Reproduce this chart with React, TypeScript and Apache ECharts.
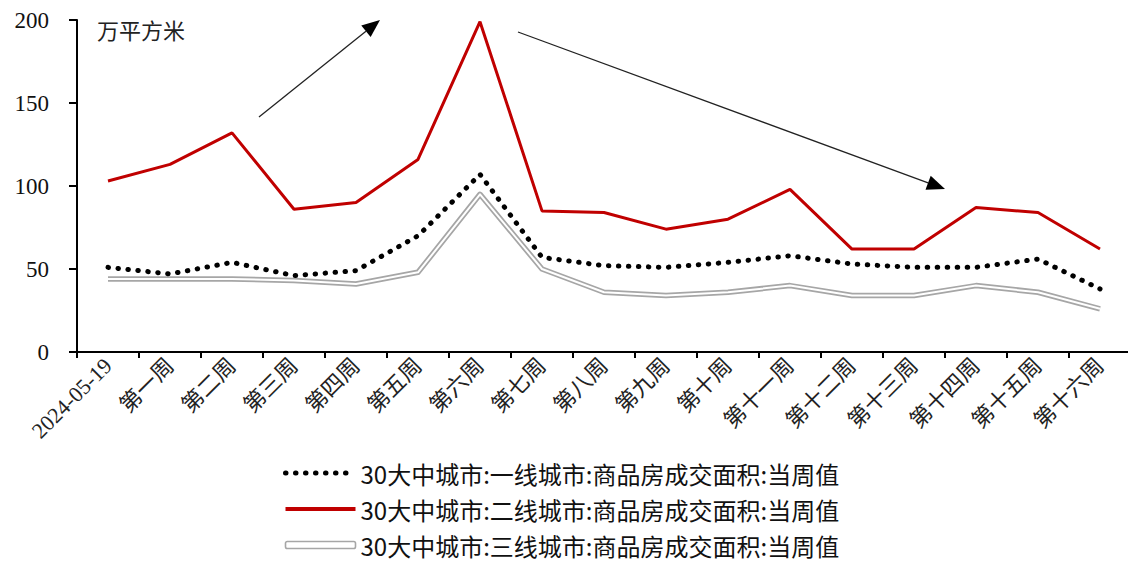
import React, { useEffect, useRef } from 'react';
import * as echarts from 'echarts';

const categories = [
  '2024-05-19', '第一周', '第二周', '第三周', '第四周', '第五周', '第六周', '第七周', '第八周',
  '第九周', '第十周', '第十一周', '第十二周', '第十三周', '第十四周', '第十五周', '第十六周',
];
const tier1 = [51, 47, 54, 46, 49, 70, 107, 57, 52, 51, 54, 58, 53, 51, 51, 56, 38];
const tier2 = [103, 113, 132, 86, 90, 116, 199, 85, 84, 74, 80, 98, 62, 62, 87, 84, 62];
const tier3 = [44, 44, 44, 43, 41, 48, 95, 50, 36, 34, 36, 40, 34, 34, 40, 36, 26];
const seriesNames = [
  '30大中城市:一线城市:商品房成交面积:当周值',
  '30大中城市:二线城市:商品房成交面积:当周值',
  '30大中城市:三线城市:商品房成交面积:当周值',
];
const yMin = 0;
const yMax = 200;
const yInterval = 50;
const unitLabel = '万平方米';

const CJK = '"Noto Sans CJK SC", "Noto Sans", sans-serif';
const SERIF = '"Liberation Serif", "DejaVu Serif", serif';
const MIXED = '"Liberation Serif", "Noto Sans CJK SC", serif';

const dotted = { color: '#000', width: 5, type: [0.5, 9.5], cap: 'round' };

function arrow(x1: number, y1: number, x2: number, y2: number) {
  const dx = x2 - x1;
  const dy = y2 - y1;
  const len = Math.sqrt(dx * dx + dy * dy);
  const ux = dx / len;
  const uy = dy / len;
  const hl = 18;
  const hw = 7.5;
  const bx = x2 - ux * hl;
  const by = y2 - uy * hl;
  return [
    {
      type: 'line',
      shape: { x1, y1, x2: bx, y2: by },
      style: { stroke: '#222', lineWidth: 1.3 },
      silent: true,
    },
    {
      type: 'polygon',
      shape: {
        points: [
          [x2, y2],
          [bx - uy * hw, by + ux * hw],
          [bx + uy * hw, by - ux * hw],
        ],
      },
      style: { fill: '#000' },
      silent: true,
    },
  ];
}

export default function App() {
  const ref = useRef<HTMLDivElement>(null);
  useEffect(() => {
    if (!ref.current) return;
    const chart = echarts.init(ref.current, null, { renderer: 'svg' });
    const option: any = {
      animation: false,
      backgroundColor: '#fff',
      grid: {
        left: 77,
        top: 20,
        width: 1054,
        height: 332,
        containLabel: false,
        outerBoundsMode: 'none',
      },
      xAxis: {
        type: 'category',
        data: categories,
        boundaryGap: true,
        axisLine: { lineStyle: { color: '#000', width: 2 } },
        axisTick: { show: true, length: 6, lineStyle: { color: '#000', width: 2 } },
        axisLabel: {
          rotate: 45,
          interval: 0,
          margin: 10,
          color: '#222',
          fontSize: 22,
          fontFamily: MIXED,
        },
        splitLine: { show: false },
      },
      yAxis: {
        type: 'value',
        min: yMin,
        max: yMax,
        interval: yInterval,
        axisLine: { show: true, lineStyle: { color: '#000', width: 2 } },
        axisTick: { show: true, length: 8, lineStyle: { color: '#000', width: 2 } },
        axisLabel: {
          margin: 28,
          color: '#111',
          fontSize: 23,
          fontFamily: SERIF,
        },
        splitLine: { show: false },
      },
      legend: {
        orient: 'horizontal',
        left: 283,
        top: 460,
        width: 700,
        padding: 0,
        itemWidth: 70,
        itemHeight: 7,
        itemGap: 10,
        selectedMode: false,
        textStyle: { fontSize: 24, fontFamily: CJK, color: '#111', lineHeight: 26 },
        data: [
          { name: seriesNames[0], itemStyle: { opacity: 0 }, lineStyle: dotted },
          { name: seriesNames[1], itemStyle: { opacity: 0 }, lineStyle: { color: '#C00000', width: 4 } },
          {
            name: seriesNames[2],
            icon: 'roundRect',
            itemStyle: { color: '#fff', borderColor: '#A6A6A6', borderWidth: 1.6 },
          },
        ],
      },
      series: [
        {
          name: seriesNames[2],
          type: 'line',
          data: tier3,
          symbol: 'none',
          z: 2,
          lineStyle: { color: '#A6A6A6', width: 5.5, join: 'round' },
          itemStyle: { color: '#A6A6A6' },
        },
        {
          name: '__inner',
          type: 'line',
          data: tier3,
          symbol: 'none',
          z: 3,
          lineStyle: { color: '#fff', width: 2, join: 'round' },
          itemStyle: { color: '#fff' },
        },
        {
          name: seriesNames[0],
          type: 'line',
          data: tier1,
          symbol: 'none',
          z: 4,
          lineStyle: dotted,
          itemStyle: { color: '#000' },
        },
        {
          name: seriesNames[1],
          type: 'line',
          data: tier2,
          symbol: 'none',
          z: 5,
          lineStyle: { color: '#C00000', width: 3 },
          itemStyle: { color: '#C00000' },
        },
      ],
      graphic: [
        {
          type: 'text',
          left: 97,
          top: 18,
          silent: true,
          style: { text: unitLabel, fontSize: 22, fontFamily: CJK, fill: '#222' },
        },
        ...arrow(259, 117, 380, 20),
        ...arrow(518, 32, 945, 189),
      ],
    };
    chart.setOption(option);
    return () => chart.dispose();
  }, []);
  return (
    <div
      ref={ref}
      style={{ position: 'fixed', left: 0, top: 0, width: 1128, height: 563, background: '#fff' }}
    />
  );
}
